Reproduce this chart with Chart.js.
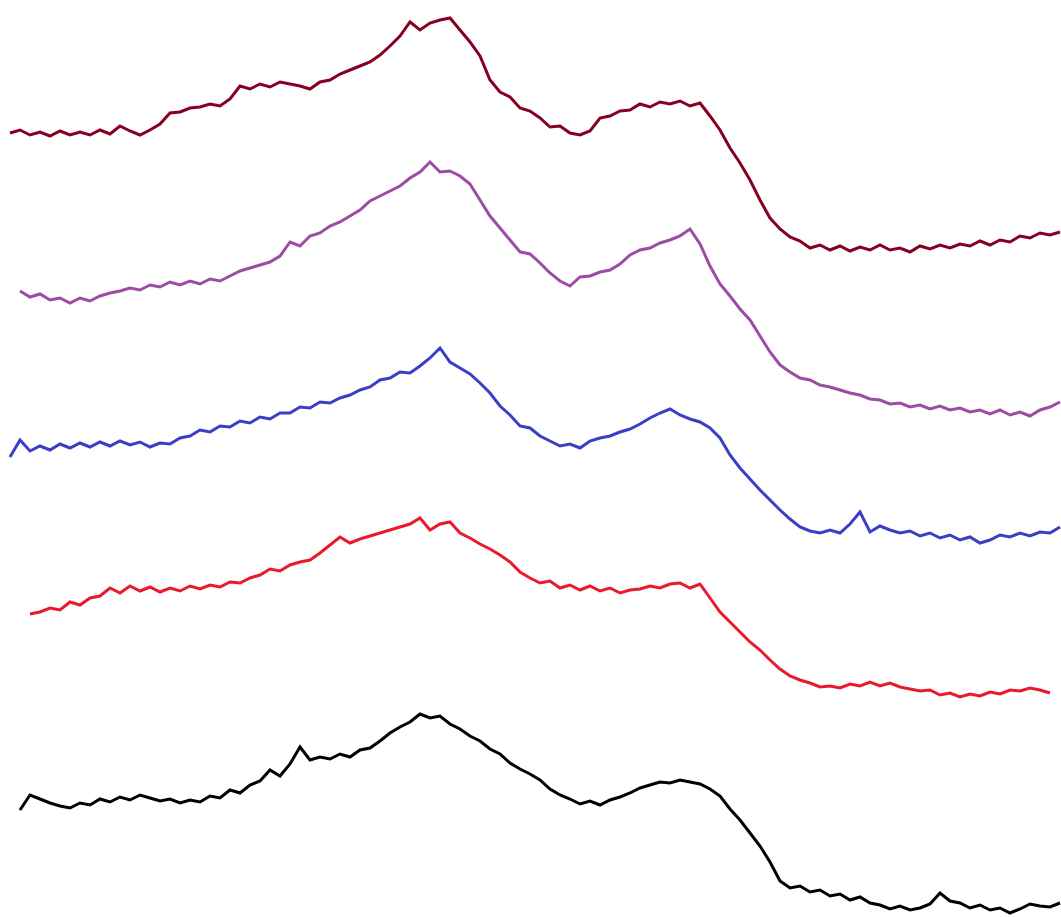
<!DOCTYPE html>
<html>
<head>
<meta charset="utf-8">
<script src="https://cdn.jsdelivr.net/npm/chart.js@4/dist/chart.umd.min.js"></script>
<style>
  body { margin: 0; background: #fff; }
  #wrap { width: 1061px; height: 917px; }
</style>
</head>
<body>
<div id="wrap"><canvas id="c" width="1061" height="917"></canvas></div>
<script>
// x positions (shared by every trace)
const xs = [10,20,30,40,50,60,70,80,90,100,
  110,120,130,140,150,160,170,180,190,200,
  210,220,230,240,250,260,270,280,290,300,
  310,320,330,340,350,360,370,380,390,400,
  410,420,430,440,450,460,470,480,490,500,
  510,520,530,540,550,560,570,580,590,600,
  610,620,630,640,650,660,670,680,690,700,
  710,720,730,740,750,760,770,780,790,800,
  810,820,830,840,850,860,870,880,890,900,
  910,920,930,940,950,960,970,980,990,1000,
  1010,1020,1030,1040,1050,1060];

// stacked traces, offset values (top of plot = 0)
const darkRed = [133,130,135,132,136,131,135,132,135,130,
  134,126,131,135,130,124,113,112,108,107,
  104,106,99,86,89,84,87,82,84,86,
  89,82,80,74,70,66,62,55,46,36,
  22,30,23,20,18,30,42,56,80,92,
  97,108,111,118,127,126,133,135,131,118,
  116,111,110,104,107,102,104,101,106,103,
  116,130,148,163,180,200,218,229,237,241,
  248,245,250,246,251,247,250,245,250,248,
  252,246,249,245,248,244,246,241,245,240,
  242,236,238,233,235,232];

const purple = [null,291,297,294,300,298,303,298,301,296,
  293,291,288,290,285,287,282,285,281,284,
  279,281,276,271,268,265,262,256,242,246,
  236,233,226,222,216,210,201,196,191,186,
  178,172,162,172,171,176,184,200,216,228,
  240,252,254,263,273,281,286,277,276,272,
  270,264,255,250,248,243,240,236,229,244,
  266,284,296,309,320,336,352,365,372,378,
  380,385,387,390,393,395,399,400,404,403,
  407,405,409,406,410,408,412,410,414,410,
  415,412,416,410,407,402];

const blue = [457,440,451,446,450,444,448,443,447,442,
  446,441,445,442,447,443,444,438,436,430,
  432,426,427,421,423,417,419,413,413,407,
  408,402,403,398,395,390,387,380,378,372,
  373,366,358,348,362,368,374,383,393,406,
  415,426,428,436,441,446,444,448,441,438,
  436,432,429,424,418,413,409,415,419,422,
  428,438,455,468,479,490,500,510,519,527,
  531,533,530,533,524,512,532,526,530,533,
  531,536,533,538,535,540,537,543,540,535,
  537,533,536,532,533,527];

const red = [null,null,614,612,608,610,602,605,598,596,
  588,593,586,591,587,592,588,591,586,589,
  585,587,582,583,578,575,569,571,565,562,
  560,553,545,537,543,539,536,533,530,527,
  524,518,530,524,522,533,538,544,549,555,
  562,572,578,583,581,588,585,590,586,591,
  588,593,590,589,586,588,584,583,588,584,
  598,612,622,632,642,650,660,669,676,680,
  683,687,686,688,684,686,682,686,683,687,
  689,691,690,695,693,697,694,696,692,694,
  690,691,688,690,693,null];

const black = [null,810,795,799,803,806,808,803,805,799,
  802,797,800,795,798,801,799,803,800,802,
  796,798,790,793,785,781,770,776,764,747,
  760,757,759,754,757,750,748,741,733,727,
  722,714,718,716,724,729,736,741,749,754,
  763,769,774,780,789,795,799,804,801,805,
  800,797,793,788,785,782,783,780,782,784,
  789,796,809,820,833,846,862,881,888,886,
  892,890,896,894,900,897,903,905,909,906,
  910,908,904,893,901,903,908,905,910,908,
  913,909,904,906,907,903];

const traces = [
  { name: 'a', data: darkRed, color: '#850021' },
  { name: 'b', data: purple, color: '#9d4ca5' },
  { name: 'c', data: blue, color: '#3b3fc6' },
  { name: 'd', data: red, color: '#e81a2c' },
  { name: 'e', data: black, color: '#000000' }
];

const ctx = document.getElementById('c').getContext('2d');
new Chart(ctx, {
  type: 'line',
  data: {
    datasets: traces.map(t => ({
      label: t.name,
      data: xs.map((x, i) => ({ x: x, y: t.data[i] })),
      borderColor: t.color,
      borderWidth: 3,
      pointRadius: 0,
      tension: 0,
      fill: false,
      spanGaps: false,
      clip: false
    }))
  },
  options: {
    responsive: false,
    animation: false,
    layout: { padding: 0 },
    plugins: { legend: { display: false }, tooltip: { enabled: false } },
    scales: {
      x: { type: 'linear', min: 0, max: 1061, display: false },
      y: { min: 0, max: 917, reverse: true, display: false }
    }
  }
});
</script>
</body>
</html>
